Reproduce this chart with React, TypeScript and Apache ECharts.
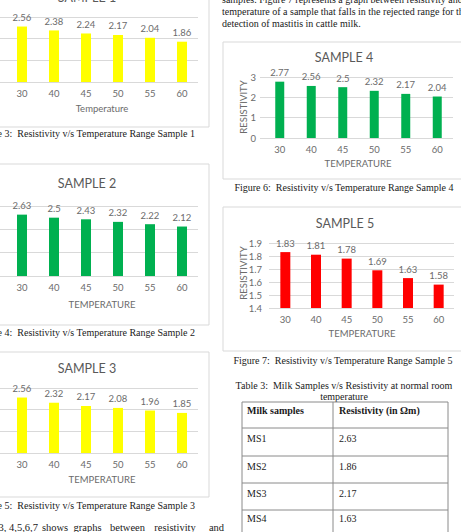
import React, { useEffect, useRef } from "react";
import * as echarts from "echarts";

const temperatures = ["30", "40", "45", "50", "55", "60"];
const sample1 = [2.56, 2.38, 2.24, 2.17, 2.04, 1.86];
const sample2 = [2.63, 2.5, 2.43, 2.32, 2.22, 2.12];
const sample3 = [2.56, 2.32, 2.17, 2.08, 1.96, 1.85];
const sample4 = [2.77, 2.56, 2.5, 2.32, 2.17, 2.04];
const sample5 = [1.83, 1.81, 1.78, 1.69, 1.63, 1.58];
const tableSamples = ["MS1", "MS2", "MS3", "MS4"];
const tableResistivity = ["2.63", "1.86", "2.17", "1.63"];

const CH = "Lato, 'Noto Sans', sans-serif";
const SERIF = "'Liberation Serif', 'DejaVu Serif', serif";
const GRAY = "#6b6b6b";
const GRID = "#d9d9d9";

const panels = [
  { name: "SAMPLE 1", data: sample1, color: "#FFFF00", gL: 0, bL: 6, r: 198, top: 17, bot: 82, min: 0, max: 3, step: 1, bw: 10, yl: false, lm: 0,
    title: [87, -3], xt: "Temperature", xtPos: [102, 108] },
  { name: "SAMPLE 2", data: sample2, color: "#00B050", gL: 0, bL: 6, r: 198, top: 206, bot: 276, min: 0, max: 3, step: 1, bw: 10, yl: false, lm: 0,
    title: [87, 183], xt: "TEMPERATURE", xtPos: [102, 304] },
  { name: "SAMPLE 3", data: sample3, color: "#FFFF00", gL: 0, bL: 6, r: 198, top: 388, bot: 453, min: 0, max: 3, step: 1, bw: 10, yl: false, lm: 0,
    title: [87, 368], xt: "TEMPERATURE", xtPos: [102, 479] },
  { name: "SAMPLE 4", data: sample4, color: "#00B050", gL: 260, bL: 264, r: 453, top: 77, bot: 138, min: 0, max: 3, step: 1, bw: 9, yl: true, lm: 4,
    title: [344, 57], xt: "TEMPERATURE", xtPos: [358, 163], yt: [243, 107] },
  { name: "SAMPLE 5", data: sample5, color: "#FF0000", gL: 269, bL: 270, r: 454, top: 243, bot: 308, min: 1.4, max: 1.9, step: 0.1, bw: 10, yl: true, lm: 7,
    title: [345, 223], xt: "TEMPERATURE", xtPos: [362, 333], yt: [243, 273] },
];

function txt(text: string, x: number, y: number, o: any = {}) {
  const align = o.align || "left";
  const va = o.va || "middle";
  return {
    type: "text",
    x,
    y,
    rotation: o.rotation || 0,
    silent: true,
    style: {
      text,
      fill: o.fill || "#1a1a1a",
      fontSize: o.size || 10,
      fontFamily: o.family || SERIF,
      fontWeight: o.weight || "normal",
      textAlign: align,
      align,
      textVerticalAlign: va,
      verticalAlign: va,
    },
  };
}

function rect(x: number, y: number, w: number, h: number, stroke = GRID) {
  return { type: "rect", silent: true, shape: { x, y, width: w, height: h }, style: { fill: "none", stroke, lineWidth: 1 } };
}

function line(x1: number, y1: number, x2: number, y2: number, stroke = "#8a8a8a") {
  return { type: "line", silent: true, shape: { x1, y1, x2, y2 }, style: { stroke, lineWidth: 1 } };
}

export default function App() {
  const ref = useRef<HTMLDivElement>(null);
  useEffect(() => {
    if (!ref.current) return;
    const chart = echarts.init(ref.current, null, { renderer: "svg" });
    const grid: any[] = [];
    const xAxis: any[] = [];
    const yAxis: any[] = [];
    const series: any[] = [];
    panels.forEach((p, i) => {
      grid.push({ left: p.gL, top: p.top, width: p.r - p.gL, height: p.bot - p.top, containLabel: false });
      xAxis.push({ type: "value", gridIndex: 2 * i, show: false, min: 0, max: 1 });
      yAxis.push({
        type: "value", gridIndex: 2 * i, min: p.min, max: p.max, interval: p.step,
        axisLine: { show: false }, axisTick: { show: false },
        axisLabel: { show: p.yl, margin: p.lm, color: GRAY, fontSize: 9.5, fontFamily: CH,
          formatter: (v: number) => (p.step < 1 ? v.toFixed(1) : String(Math.round(v))) },
        splitLine: { show: true, lineStyle: { color: GRID, width: 1 } },
      });
      grid.push({ left: p.bL, top: p.top, width: p.r - p.bL, height: p.bot - p.top, containLabel: false });
      xAxis.push({
        type: "category", gridIndex: 2 * i + 1, data: temperatures,
        axisLine: { show: false }, axisTick: { show: false },
        axisLabel: { color: GRAY, fontSize: 9.5, fontFamily: CH, margin: 6 },
      });
      yAxis.push({ type: "value", gridIndex: 2 * i + 1, min: p.min, max: p.max, interval: p.step, show: false, splitLine: { show: false } });
      series.push({
        type: "bar", name: p.name, xAxisIndex: 2 * i + 1, yAxisIndex: 2 * i + 1, data: p.data,
        barWidth: p.bw, itemStyle: { color: p.color },
        label: { show: true, position: "top", distance: 4, color: GRAY, fontSize: 9.5, fontFamily: CH },
      });
    });

    const g: any[] = [];
    g.push(rect(-2, -10, 211, 137));
    g.push(rect(-2, 164, 211, 161));
    g.push(rect(-2, 352, 211, 145));
    g.push(rect(223, 42, 250, 137));
    g.push(rect(223, 207, 250, 144));
    panels.forEach((p) => {
      g.push(txt(p.name, p.title[0], p.title[1], { align: "center", size: 12.5, family: CH, fill: "#595959" }));
      g.push(txt(p.xt, p.xtPos[0], p.xtPos[1], { align: "center", size: 9.5, family: CH, fill: GRAY }));
      if (p.yt) g.push(txt("RESISTIVITY", p.yt[0], p.yt[1], { align: "center", size: 9.5, family: CH, fill: GRAY, rotation: Math.PI / 2 }));
    });
    g.push(txt("re 3:  Resistivity v/s Temperature Range Sample 1", 195, 133, { align: "right" }));
    g.push(txt("e 4:  Resistivity v/s Temperature Range Sample 2", 195, 332, { align: "right" }));
    g.push(txt("e 5:  Resistivity v/s Temperature Range Sample 3", 195, 505, { align: "right" }));
    g.push(txt("Figure 6:  Resistivity v/s Temperature Range Sample 4", 344, 187, { align: "center" }));
    g.push(txt("Figure 7:  Resistivity v/s Temperature Range Sample 5", 343, 360, { align: "center" }));
    g.push(txt("samples. Figure 7 represents a graph between resistivity and", 222, -1));
    g.push(txt("temperature of a sample that falls in the rejected range for the", 222, 11));
    g.push(txt("detection of mastitis in cattle milk.", 222, 23));
    const words: [string, number][] = [["3,", 2.5], ["4,5,6,7", 23.5], ["shows", 55], ["graphs", 87.5], ["between", 127.5], ["resistivity", 175], ["and", 216.5]];
    words.forEach(([w, x]) => g.push(txt(w, x, 527, { align: "center", size: 10.5 })));
    g.push(txt("Table 3:  Milk Samples v/s Resistivity at normal room", 344, 385, { align: "center" }));
    g.push(txt("temperature", 344, 396, { align: "center" }));
    const rows = [402, 428, 456, 483, 510];
    rows.forEach((y) => g.push(line(242, y, 448, y)));
    [242, 333, 448].forEach((x) => g.push(line(x, 402, x, 540)));
    g.push(txt("Milk samples", 247, 410, { weight: "bold" }));
    g.push(txt("Resistivity (in Ωm)", 339, 410, { weight: "bold" }));
    const rowY = [438, 466, 493, 518];
    tableSamples.forEach((s, i) => {
      g.push(txt(s, 247, rowY[i]));
      g.push(txt(tableResistivity[i], 339, rowY[i]));
    });

    chart.setOption({
      animation: false,
      backgroundColor: "#ffffff",
      grid,
      xAxis,
      yAxis,
      series,
      graphic: { elements: g },
    });
    return () => chart.dispose();
  }, []);
  return <div ref={ref} style={{ position: "absolute", left: 0, top: 0, width: 461, height: 532 }} />;
}
